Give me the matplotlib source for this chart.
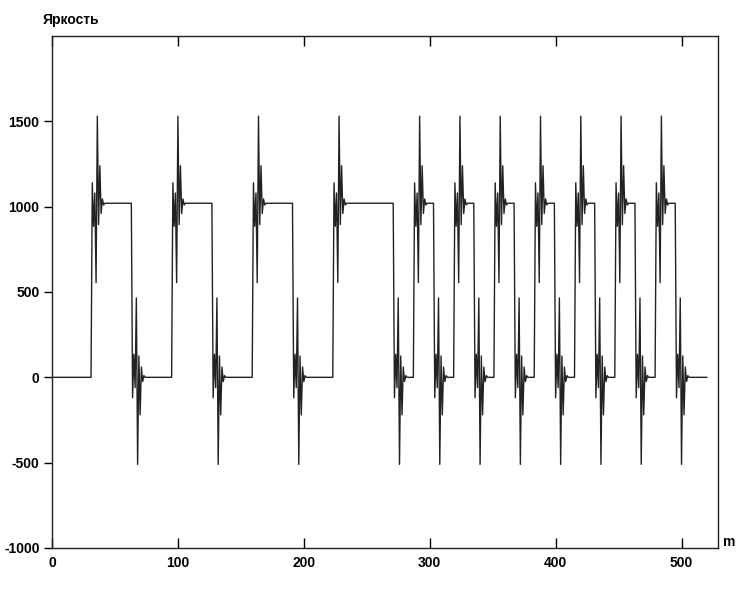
import numpy as np
import matplotlib
matplotlib.use("Agg")
import matplotlib.pyplot as plt

plt.rcParams['font.family'] = ['Liberation Sans', 'DejaVu Sans']
plt.rcParams['axes.unicode_minus'] = False

# Data
rise_edges = [32, 96, 160, 224, 288, 320, 352, 384, 416, 448, 480]
fall_edges = [64, 128, 192, 272, 304, 336, 368, 400, 432, 464, 496]
high_level = 1020
low_level = 0
n_samples = 521
# ringing offsets after a rising edge (negated after a falling edge)
ringing = [120, -135, 60, -465, 510, -125, 220, -60, 25, -10]

x = np.arange(n_samples)
y = np.full(n_samples, float(low_level))
for r, f in zip(rise_edges, fall_edges):
    y[r:f] = high_level
step = high_level - low_level
for r in rise_edges:
    for k, d in enumerate(ringing):
        if r + k < n_samples:
            y[r + k] += d * step / 1020
for f in fall_edges:
    for k, d in enumerate(ringing):
        if f + k < n_samples:
            y[f + k] -= d * step / 1020

fig = plt.figure(figsize=(7.45, 5.9), dpi=100)
ax = fig.add_axes([0.0698, 0.0712, 0.8940, 0.8678])
ax.plot(x, y, color='#222222', linewidth=1.0)

ax.set_xlim(0, 529)
ax.set_ylim(-1000, 2000)
ax.set_xticks([0, 100, 200, 300, 400, 500])
ax.set_yticks([-1000, -500, 0, 500, 1000, 1500])
ax.tick_params(axis='x', direction='in', top=True, length=7, width=1, pad=6)
ax.tick_params(axis='y', direction='out', length=6, width=1, pad=3)
for lab in ax.get_xticklabels() + ax.get_yticklabels():
    lab.set_fontweight('bold')
    lab.set_fontsize(10)
for s in ax.spines.values():
    s.set_linewidth(1.0)
    s.set_color('#222222')

fig.text(0.057, 0.955, 'Яркость', fontsize=10, fontweight='bold', ha='left', va='bottom')
fig.text(0.970, 0.070, 'm', fontsize=10, fontweight='bold', ha='left', va='bottom')

fig.savefig('out.png', dpi=100, facecolor='white')
